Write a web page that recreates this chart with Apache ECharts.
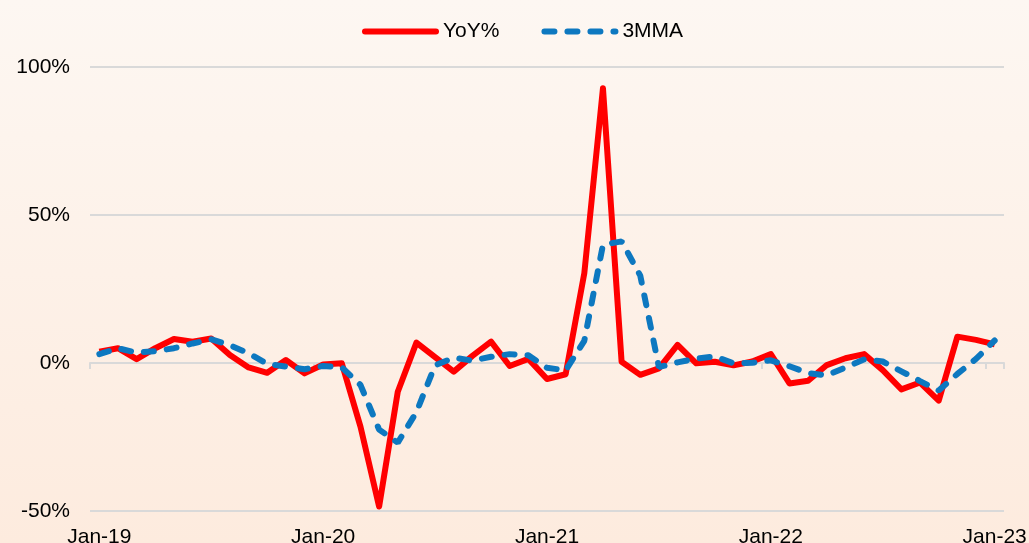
<!DOCTYPE html>
<html>
<head>
<meta charset="utf-8">
<script src="https://cdn.jsdelivr.net/npm/echarts@6/dist/echarts.min.js"></script>
<style>
    html, body { margin: 0; padding: 0; }
    #yoy_chart { width: 1029px; height: 543px; }
</style>
</head>
<body>
<div id="yoy_chart"></div>
<script>
var months = [
    'Jan-19', 'Feb-19', 'Mar-19', 'Apr-19', 'May-19', 'Jun-19', 'Jul-19', 'Aug-19', 'Sep-19', 'Oct-19', 'Nov-19', 'Dec-19',
    'Jan-20', 'Feb-20', 'Mar-20', 'Apr-20', 'May-20', 'Jun-20', 'Jul-20', 'Aug-20', 'Sep-20', 'Oct-20', 'Nov-20', 'Dec-20',
    'Jan-21', 'Feb-21', 'Mar-21', 'Apr-21', 'May-21', 'Jun-21', 'Jul-21', 'Aug-21', 'Sep-21', 'Oct-21', 'Nov-21', 'Dec-21',
    'Jan-22', 'Feb-22', 'Mar-22', 'Apr-22', 'May-22', 'Jun-22', 'Jul-22', 'Aug-22', 'Sep-22', 'Oct-22', 'Nov-22', 'Dec-22',
    'Jan-23'
];

// YoY %
var yoy = [
    3.8, 5.0, 1.3, 5.0, 8.1, 7.2, 8.3, 2.7, -1.5, -3.3, 1.0, -3.5,
    -0.5, -0.1, -21.5, -48.5, -9.7, 6.9, 2.0, -2.9, 2.4, 7.2, -1.0, 1.4,
    -5.4, -3.8, 30.3, 92.8, 0.4, -4.0, -1.8, 6.1, -0.1, 0.4, -0.8, 0.5,
    3.0, -6.9, -6.0, -0.7, 1.6, 3.0, -2.4, -8.9, -6.6, -12.7, 8.9, 7.8,
    6.3
];

// 3 month moving average
var mma3 = [
    3.0, 5.0, 3.5, 4.0, 5.0, 6.6, 8.0, 6.0, 3.3, -0.3, -1.2, -2.1,
    -1.0, -1.5, -7.4, -22.5, -26.9, -16.6, -0.8, 1.8, 0.8, 2.1, 3.0, 2.6,
    -1.6, -2.5, 7.5, 39.9, 41.1, 29.5, -1.4, 0.2, 1.5, 2.2, -0.1, 0.1,
    0.9, -1.1, -3.4, -4.2, -1.5, 1.2, 0.5, -2.8, -6.1, -9.3, -3.7, 1.4,
    7.6
];

var yTicks = [-50, 0, 50, 100];

function draw() {
    var chart = echarts.init(document.getElementById('yoy_chart'));

    var option = {
        animation: false,
        backgroundColor: new echarts.graphic.LinearGradient(0, 0, 0, 1, [
            { offset: 0, color: '#fdf7f2' },
            { offset: 1, color: '#fdebde' }
        ]),
        textStyle: {
            fontFamily: 'Liberation Sans, Arial, sans-serif'
        },
        legend: {
            top: 16,
            left: 357,
            itemWidth: 71,
            itemHeight: 14,
            itemGap: 42,
            textStyle: { fontSize: 21, color: '#000', padding: [0, 0, 0, 2] },
            itemStyle: { opacity: 0 },
            lineStyle: { width: 6, cap: 'round' },
            data: ['YoY%', '3MMA']
        },
        grid: {
            left: 90,
            right: 25,
            top: 67,
            bottom: 32,
            outerBoundsMode: 'none',
            containLabel: false
        },
        xAxis: [
            {
                type: 'category',
                data: months,
                boundaryGap: true,
                axisLine: { show: false, onZero: false },
                axisTick: { show: false },
                axisLabel: {
                    interval: 11,
                    fontSize: 21,
                    color: '#000',
                    margin: 16
                }
            },
            {
                type: 'category',
                data: months,
                boundaryGap: true,
                position: 'bottom',
                axisLine: { show: true, onZero: true, lineStyle: { color: '#d9d9d9', width: 2 } },
                axisTick: { show: true, interval: 11, length: 6, lineStyle: { color: '#d9d9d9', width: 2 } },
                axisLabel: { show: false }
            }
        ],
        yAxis: {
            type: 'value',
            min: yTicks[0],
            max: yTicks[yTicks.length - 1],
            interval: 50,
            axisLine: { show: false },
            axisTick: { show: false },
            axisLabel: {
                fontSize: 21,
                color: '#000',
                margin: 20,
                formatter: '{value}%'
            },
            splitLine: {
                lineStyle: { color: '#d9d9d9', width: 2 }
            }
        },
        series: [
            {
                name: 'YoY%',
                type: 'line',
                data: yoy,
                symbol: 'none',
                color: '#ff0000',
                lineStyle: { color: '#ff0000', width: 6, join: 'round' },
                z: 3
            },
            {
                name: '3MMA',
                type: 'line',
                data: mma3,
                symbol: 'none',
                color: '#0d78c0',
                lineStyle: { color: '#0d78c0', width: 6, type: [10, 13], cap: 'round' },
                z: 4
            }
        ]
    };

    chart.setOption(option);

    window.onresize = chart.resize;
}

draw();
</script>
</body>
</html>
